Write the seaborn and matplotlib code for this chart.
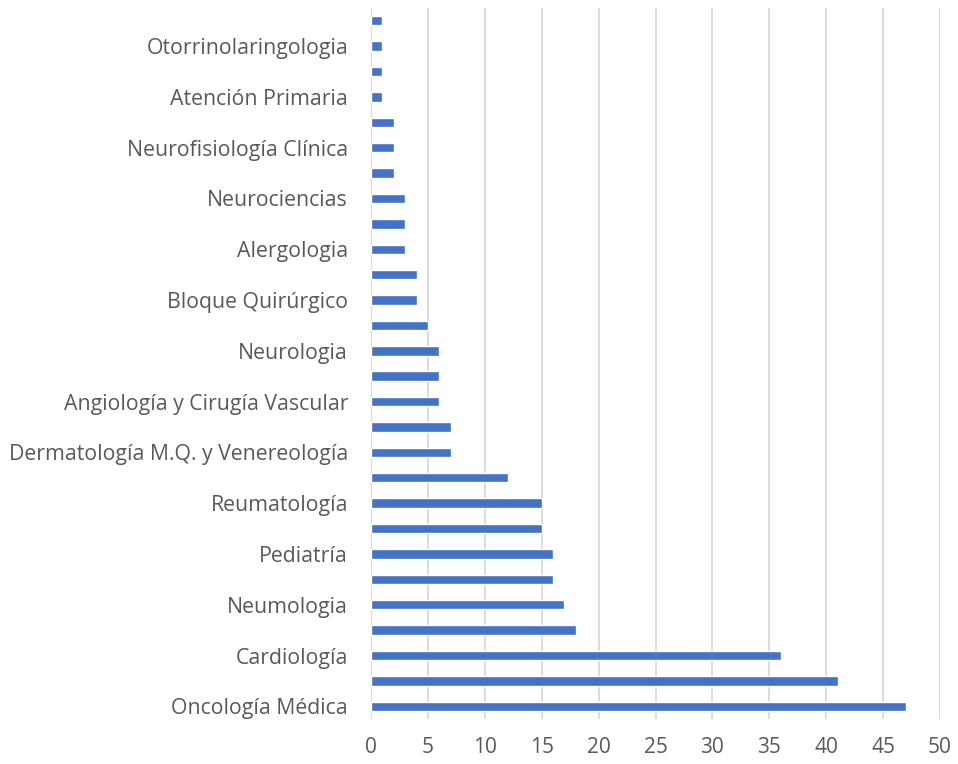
import matplotlib
matplotlib.use("Agg")
import matplotlib.pyplot as plt
import seaborn as sns
import pandas as pd

# Categories top to bottom; only every other one is labelled in the reference
categories = [
    "(sin etiqueta 1)", "Otorrinolaringologia", "(sin etiqueta 2)", "Atención Primaria",
    "(sin etiqueta 3)", "Neurofisiología Clínica", "(sin etiqueta 4)", "Neurociencias",
    "(sin etiqueta 5)", "Alergologia", "(sin etiqueta 6)", "Bloque Quirúrgico",
    "(sin etiqueta 7)", "Neurologia", "(sin etiqueta 8)", "Angiología y Cirugía Vascular",
    "(sin etiqueta 9)", "Dermatología M.Q. y Venereología", "(sin etiqueta 10)", "Reumatología",
    "(sin etiqueta 11)", "Pediatría", "(sin etiqueta 12)", "Neumologia",
    "(sin etiqueta 13)", "Cardiología", "(sin etiqueta 14)", "Oncología Médica",
]
values = [1, 1, 1, 1, 2, 2, 2, 3, 3, 3, 4, 4, 5, 6, 6, 6, 7, 7, 12, 15, 15, 16, 16, 17, 18, 36, 41, 47]
shown_labels = [c if not c.startswith("(sin") else "" for c in categories]
x_ticks = list(range(0, 51, 5))

df = pd.DataFrame({"cat": categories, "val": values})

sns.set_theme(style="white")
plt.rcParams['font.family'] = ['Open Sans', 'DejaVu Sans']

fig = plt.figure(figsize=(9.58, 7.64), dpi=100)
ax = fig.add_axes([371/958, 1 - 719/764, (940-371)/958, (719-8)/764])

sns.barplot(data=df, x="val", y="cat", color="#4472C4", width=0.37,
            saturation=1, ax=ax, orient="h")

ax.set_xlim(0, 50)
ax.set_ylim(len(categories) - 0.5, -0.5)
ax.set_xticks(x_ticks)
ax.set_xticklabels([str(t) for t in x_ticks], fontsize=15, color="#595959")
ax.set_yticks(range(len(categories)))
ax.set_yticklabels(shown_labels, fontsize=15.3, color="#595959")
ax.set_xlabel("")
ax.set_ylabel("")
ax.grid(axis="x", color="#D9D9D9", linewidth=1.3)
ax.set_axisbelow(True)
for s in ax.spines.values():
    s.set_visible(False)
ax.tick_params(axis="both", length=0)
ax.tick_params(axis="x", pad=13)
ax.tick_params(axis="y", pad=16.5)

fig.savefig("out.png", dpi=100)
